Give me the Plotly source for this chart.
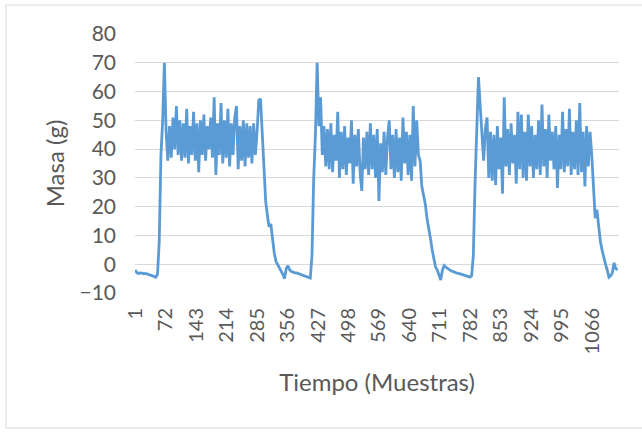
import plotly.graph_objects as go

# Valores (una lectura cada 4 muestras)
base_1 = [-2, -3, -3.2, -3, -3.1, -3.3, -3.2, -3.5, -3.6, -3.8, -4, -4.3, -4.5]
subida_1 = [-3.5, 8, 38, 50, 70, 46]
meseta_1 = [36, 48, 37, 51, 40, 55, 38, 50, 36, 49,
            37, 54, 35, 48, 38, 53, 36, 49, 32, 50,
            38, 52, 36, 48, 40, 51, 37, 58, 31, 49,
            38, 56, 35, 50, 37, 54, 34, 49, 38, 51,
            55, 33, 48, 36, 50, 34, 49, 37, 48, 35,
            49, 38, 46, 57, 57.5]
bajada_1 = [44, 32, 22, 17, 13, 14, 8, 4, 1, 0,
            -1, -2, -3.5, -5, -1.5, -0.5, -2, -2.5, -2.8, -3,
            -3, -3.2, -3.5, -3.6, -3.8, -4, -4.2, -4.5, -4.8]
subida_2 = [3, 30, 45, 70, 48, 58]
meseta_2 = [38, 48, 34, 47, 33, 49, 32, 45, 36, 53,
            30, 46, 33, 48, 31, 44, 35, 50, 28, 45,
            34, 47, 32, 25.5, 44, 33, 46, 31, 49, 33,
            45, 30, 47, 22, 42, 32, 46, 31, 44, 50,
            33, 45, 30, 47, 32, 44, 29, 51, 35, 46,
            31, 45, 29, 55, 34, 50, 38]
bajada_2 = [36, 27, 24, 21, 16, 13, 9, 5, 2, -1,
            -2, -3.5, -5.5, -2, -0.5, -1, -1.5, -2, -2.3, -2.5,
            -2.8, -3, -3.2, -3.3, -3.5, -3.6, -3.8, -4, -4.2, -4.5,
            -4]
subida_3 = [3, 28, 44, 65, 55, 45]
meseta_3 = [36, 47, 51, 30, 46, 29, 45, 27.5, 48, 33,
            44, 24.5, 58, 34, 47, 31, 49, 35, 45, 28,
            53, 33, 52, 30, 46, 29, 52, 34, 48, 30,
            45, 33, 50, 31, 55.5, 34, 47, 30, 52, 36,
            46, 33, 48, 26.5, 45, 33, 53, 32, 47, 34,
            54, 31, 46, 33, 50, 31, 56, 32, 46, 27,
            48, 34, 46]
bajada_3 = [38, 25, 16, 19, 12, 8, 5, 2, 0, -2,
            -4.5, -4, -3, 0.5, -1.5, -2]

masa = (base_1 + subida_1 + meseta_1 + bajada_1 + subida_2 + meseta_2
        + bajada_2 + subida_3 + meseta_3 + bajada_3)
muestra = list(range(1, 1 + 4 * len(masa), 4))

etiquetas_x = [1, 72, 143, 214, 285, 356, 427, 498, 569, 640, 711, 782,
               853, 924, 995, 1066]
ticks_y = [-10, 0, 10, 20, 30, 40, 50, 60, 70, 80]

FONT = "Lato"
GRAY = "#595959"

fig = go.Figure()
fig.add_trace(go.Scatter(
    x=muestra, y=masa, mode="lines",
    line=dict(color="#5b9bd5", width=2.8),
    hoverinfo="skip", showlegend=False,
))

fig.update_layout(
    width=642, height=432,
    margin=dict(l=135, r=23, t=34, b=139),
    paper_bgcolor="white", plot_bgcolor="white",
    font=dict(family=FONT, color=GRAY, size=20),
    xaxis=dict(
        range=[0.5, 1128.5],
        tickmode="array", tickvals=etiquetas_x,
        ticktext=[str(v) for v in etiquetas_x],
        tickangle=-90, showgrid=False, zeroline=False, showline=False,
        ticks="", ticklabelstandoff=10,
        tickfont=dict(family=FONT, size=20, color=GRAY),
        title=dict(text="Tiempo (Muestras)", font=dict(family=FONT, size=24, color=GRAY),
                   standoff=20),
    ),
    yaxis=dict(
        range=[-10, 80], tickmode="array", tickvals=ticks_y,
        showgrid=True, gridcolor="#d9d9d9", gridwidth=1,
        zeroline=False, showline=False, ticks="", ticklabelstandoff=18,
        tickfont=dict(family=FONT, size=21, color=GRAY),
        title=dict(text="Masa (g)", font=dict(family=FONT, size=24, color=GRAY),
                   standoff=8),
    ),
    shapes=[dict(type="rect", xref="paper", yref="paper",
                 x0=-0.2665, x1=1.0517, y0=-0.521, y1=1.112,
                 line=dict(color="#d9d9d9", width=1), fillcolor="rgba(0,0,0,0)",
                 layer="below")],
)

fig.write_html(
    "out.html",
    config={"displayModeBar": False},
    post_script="document.body.style.margin='0';document.body.style.overflow='hidden';",
)
